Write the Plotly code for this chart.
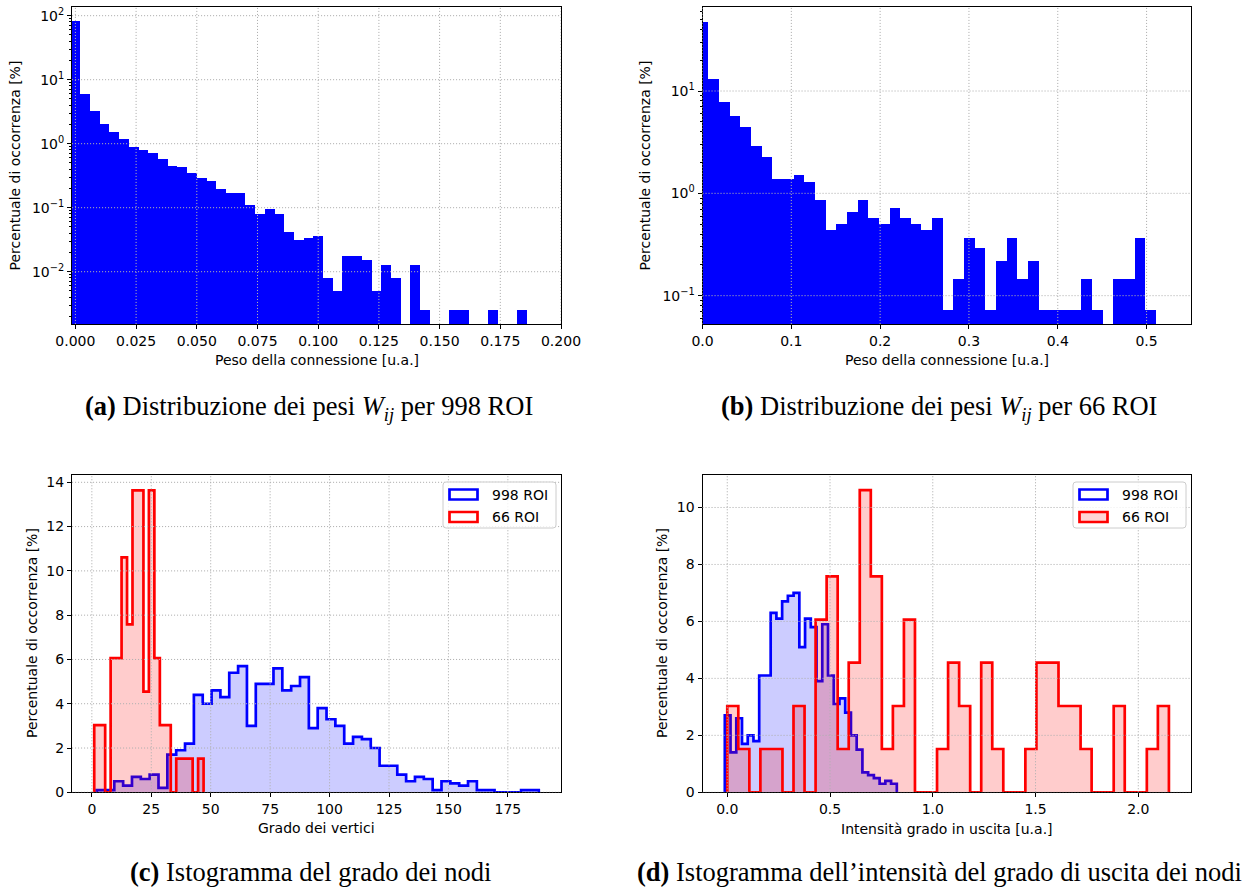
import numpy as np
import plotly.graph_objects as go

W, H = 1258, 888

# ---------------- data ----------------
# (a) weights distribution, 998 ROI: bins of width 0.004 centred on multiples of 0.004
a_width = 0.004
a_centers = np.round(np.arange(47) * a_width, 3)
a_pct = [80.5, 5.83, 3.16, 1.98, 1.49, 1.155, 0.866, 0.778, 0.698, 0.562,
         0.437, 0.422, 0.340, 0.284, 0.255, 0.191, 0.166, 0.166, 0.111, 0.0778,
         0.093, 0.0778, 0.0407, 0.0305, 0.0328, 0.0352,
         0.00778, 0.00499, 0.01757, 0.01757, 0.0152, 0.00499, 0.0127, 0.00778, None, 0.0127,
         0.00252, None, None, 0.00252, 0.00252, None, None, 0.00252, None, None, 0.00252]

# (b) weights distribution, 66 ROI: bins of width 0.012 centred on multiples of 0.012
b_width = 0.012
b_centers = np.round(np.arange(43) * b_width, 3)
b_pct = [47.2, 13.0, 7.81, 5.65, 4.45, 2.90, 2.265, 1.38, 1.38, 1.51,
         1.29, 0.861, 0.438, 0.502, 0.657, 0.861, 0.574, 0.502, 0.719, 0.574,
         0.502, 0.438, 0.574, 0.0722, 0.1445, 0.361, 0.289, 0.0722, 0.2166, 0.361,
         0.1445, 0.2166, 0.0722, 0.0722, 0.0722, 0.0722, 0.1445, 0.0722, None, 0.1445,
         0.1445, 0.361, 0.0722]

# (c) node degree histograms
c_blue_edges = np.linspace(2, 188, 51)
c_blue_pct = [0.1, 0.1, 0.5, 0.3, 0.7, 0.6, 0.8, 0.2, 1.7, 1.9,
              2.2, 4.4, 4.0, 4.6, 4.3, 5.4, 5.7, 3.0, 4.9, 4.9,
              5.6, 4.6, 4.8, 5.2, 2.9, 3.8, 3.3, 3.0, 2.2, 2.5,
              2.4, 2.0, 1.2, 1.2, 0.8, 0.5, 0.7, 0.6, 0.1, 0.5,
              0.4, 0.3, 0.5, 0.1, 0.1, 0.0, 0.0, 0.0, 0.1, 0.1]
c_red_edges = np.linspace(1, 47, 21)
c_red_pct = [3.03, 3.03, 0.0, 6.06, 6.06, 10.61, 7.58, 13.64, 13.64, 4.55,
             13.64, 6.06, 3.03, 3.03, 0.0, 1.52, 1.52, 1.52, 0.0, 1.52]

# (d) out-strength histograms
d_blue_edges = np.linspace(-0.012, 0.825, 31)
d_blue_pct = [2.7, 1.4, 2.6, 1.7, 2.0, 1.8, 4.1, 4.1, 6.3, 6.1,
              6.7, 6.9, 7.0, 5.1, 6.1, 5.8, 3.9, 5.9, 4.1, 3.1,
              3.3, 2.8, 2.0, 1.5, 0.7, 0.6, 0.5, 0.3, 0.4, 0.3]
d_red_edges = np.linspace(0.0, 2.149, 41)
d_red_pct = [3.03, 1.52, 0.0, 1.52, 1.52, 0.0, 3.03, 0.0, 6.06, 7.58,
             1.52, 4.55, 10.61, 7.58, 1.52, 3.03, 6.06, 0.0, 0.0, 1.52,
             4.55, 3.03, 0.0, 4.55, 1.52, 0.0, 0.0, 1.52, 4.55, 4.55,
             3.03, 3.03, 1.52, 0.0, 0.0, 3.03, 0.0, 0.0, 1.52, 3.03]

legend_labels = ["998 ROI", "66 ROI"]

# tick values
a_xt = [0, 0.025, 0.05, 0.075, 0.1, 0.125, 0.15, 0.175, 0.2]
a_yt = [0.01, 0.1, 1, 10, 100]
b_xt = [0, 0.1, 0.2, 0.3, 0.4, 0.5]
b_yt = [0.1, 1, 10]
c_xt = [0, 25, 50, 75, 100, 125, 150, 175]
c_yt = [0, 2, 4, 6, 8, 10, 12, 14]
d_xt = [0, 0.5, 1.0, 1.5, 2.0]
d_yt = [0, 2, 4, 6, 8, 10]

# ---------------- helpers ----------------
def P(x):
    return x / W

def Q(y):
    return 1 - y / H

FONT = "DejaVu Sans"
FS = 14
BLUE = "#0000ff"
RED = "#ff0000"
GRID = "#b0b0b0"

def step_xy(edges, heights):
    xs = [edges[0]]
    ys = [0]
    for i, h in enumerate(heights):
        xs += [edges[i], edges[i + 1]]
        ys += [h, h]
    xs.append(edges[-1])
    ys.append(0)
    return xs, ys

fig = go.Figure()

# panel domains (pixels)
LX = (72, 561)
RX = (702.5, 1191)
TY = (7.3, 324)
BY = (475, 792.3)

def dom_x(r):
    return [P(r[0]), P(r[1])]

def dom_y(r):
    return [Q(r[1]), Q(r[0])]

# ---------------- traces ----------------
fig.add_trace(go.Bar(x=a_centers, y=a_pct, width=a_width, marker=dict(color=BLUE, line=dict(width=0)),
                     xaxis="x", yaxis="y", showlegend=False))
fig.add_trace(go.Bar(x=b_centers, y=b_pct, width=b_width, marker=dict(color=BLUE, line=dict(width=0)),
                     xaxis="x2", yaxis="y2", showlegend=False))

for (edges, pct, col, fillc, xa, ya) in [
    (c_blue_edges, c_blue_pct, BLUE, "rgba(0,0,255,0.2)", "x3", "y3"),
    (c_red_edges, c_red_pct, RED, "rgba(255,0,0,0.2)", "x3", "y3"),
    (d_blue_edges, d_blue_pct, BLUE, "rgba(0,0,255,0.2)", "x4", "y4"),
    (d_red_edges, d_red_pct, RED, "rgba(255,0,0,0.2)", "x4", "y4"),
]:
    xs, ys = step_xy(edges, pct)
    fig.add_trace(go.Scatter(x=xs, y=ys, mode="lines", fill="tozeroy", fillcolor=fillc,
                             line=dict(color=col, width=2.7), xaxis=xa, yaxis=ya,
                             showlegend=False, hoverinfo="skip"))

# ---------------- axes ----------------
common = dict(showline=True, mirror=True, linecolor="black", linewidth=1,
              ticks="outside", ticklen=4, tickwidth=1, tickcolor="black",
              showgrid=False, zeroline=False, layer="above traces", automargin=False,
              tickfont=dict(family=FONT, size=FS, color="black"))

minor_log_a = [m * 10.0 ** e for e in range(-3, 3) for m in range(2, 10)]
minor_log_a = [v for v in minor_log_a if 0.00152 <= v <= 135]
minor_log_b = [m * 10.0 ** e for e in range(-2, 2) for m in range(2, 10)]
minor_log_b = [v for v in minor_log_b if 0.0528 <= v <= 65.7]

fig.update_layout(
    xaxis=dict(domain=dom_x(LX), anchor="y", range=[-0.0014, 0.2],
               tickvals=a_xt, ticktext=[f"{v:.3f}" for v in a_xt], **common),
    yaxis=dict(domain=dom_y(TY), anchor="x", type="log", range=[-2.817, 2.131],
               tickvals=a_yt,
               ticktext=["10<sup>−2</sup>", "10<sup>−1</sup>", "10<sup>0</sup>", "10<sup>1</sup>", "10<sup>2</sup>"],
               minor=dict(tickvals=minor_log_a, ticks="outside", ticklen=2, tickcolor="black", showgrid=False),
               **common),
    xaxis2=dict(domain=dom_x(RX), anchor="y2", range=[0, 0.55],
                tickvals=b_xt, ticktext=[f"{v:.1f}" for v in b_xt], **common),
    yaxis2=dict(domain=dom_y(TY), anchor="x2", type="log", range=[-1.277, 1.818],
                tickvals=b_yt,
                ticktext=["10<sup>−1</sup>", "10<sup>0</sup>", "10<sup>1</sup>"],
                minor=dict(tickvals=minor_log_b, ticks="outside", ticklen=2, tickcolor="black", showgrid=False),
                **common),
    xaxis3=dict(domain=dom_x(LX), anchor="y3", range=[-8.35, 197.35],
                tickvals=c_xt, ticktext=[str(v) for v in c_xt], **common),
    yaxis3=dict(domain=dom_y(BY), anchor="x3", range=[0, 14.33],
                tickvals=c_yt, **common),
    xaxis4=dict(domain=dom_x(RX), anchor="y4", range=[-0.1205, 2.2565],
                tickvals=d_xt, ticktext=[f"{v:.1f}" for v in d_xt], **common),
    yaxis4=dict(domain=dom_y(BY), anchor="x4", range=[0, 11.14],
                tickvals=d_yt, **common),
)

shapes = []

# dotted grid drawn above the histograms (matplotlib draws grid over patches)
GRID_DASH = "1.1px,1.9px"
for xa, ya, xt, yt in [("x", "y", a_xt, a_yt), ("x2", "y2", b_xt, b_yt),
                       ("x3", "y3", c_xt, c_yt), ("x4", "y4", d_xt, d_yt)]:
    for v in xt:
        shapes.append(dict(type="line", xref=xa, yref=ya + " domain", x0=v, x1=v, y0=0, y1=1,
                           line=dict(color=GRID, width=1, dash=GRID_DASH), layer="above"))
    for v in yt:
        shapes.append(dict(type="line", xref=xa + " domain", yref=ya, x0=0, x1=1, y0=v, y1=v,
                           line=dict(color=GRID, width=1, dash=GRID_DASH), layer="above"))

# ---------------- text ----------------
ann = []

def text(x, y, s, size=FS, family=FONT, angle=0, xanchor="center"):
    ann.append(dict(x=P(x), y=Q(y), xref="paper", yref="paper", text=s, showarrow=False,
                    textangle=angle, xanchor=xanchor, yanchor="middle",
                    font=dict(family=family, size=size, color="black")))

ylab = "Percentuale di occorrenza [%]"
text(15, 165.5, ylab, angle=-90)
text(645, 165.5, ylab, angle=-90)
text(31.5, 633.5, ylab, angle=-90)
text(661.5, 633.5, ylab, angle=-90)

text(316.5, 360, "Peso della connessione [u.a.]")
text(947, 360, "Peso della connessione [u.a.]")
text(316.5, 828, "Grado dei vertici")
text(947, 829, "Intensità grado in uscita [u.a.]")

SERIF = "Liberation Serif"
CS = 26.5
text(309, 408, "<b>(a)</b> Distribuzione dei pesi <i>W</i><sub><i>ij</i></sub> per 998 ROI", size=CS, family=SERIF)
text(939, 408, "<b>(b)</b> Distribuzione dei pesi <i>W</i><sub><i>ij</i></sub> per 66 ROI", size=CS, family=SERIF)
text(310, 871.5, "<b>(c)</b> Istogramma del grado dei nodi", size=CS, family=SERIF)
text(939, 871.5, "<b>(d)</b> Istogramma dell’intensità del grado di uscita dei nodi", size=CS, family=SERIF)

# ---------------- custom legends ----------------
def rounded_box(x0, y0, x1, y1, r=3):
    rx, ry = r / W, r / H
    X0, X1 = P(x0), P(x1)
    Y0, Y1 = Q(y0), Q(y1)
    path = (f"M {X0+rx},{Y0} L {X1-rx},{Y0} Q {X1},{Y0} {X1},{Y0-ry} "
            f"L {X1},{Y1+ry} Q {X1},{Y1} {X1-rx},{Y1} L {X0+rx},{Y1} "
            f"Q {X0},{Y1} {X0},{Y1+ry} L {X0},{Y0-ry} Q {X0},{Y0} {X0+rx},{Y0} Z")
    return dict(type="path", path=path, xref="paper", yref="paper",
                fillcolor="rgba(255,255,255,0.8)", line=dict(color="#cccccc", width=1), layer="above")

for dx, red_fill in [(0, "white"), (630, "rgba(255,214,214,1)")]:
    shapes.append(rounded_box(443 + dx, 482, 556 + dx, 528))
    for i, (col, fc) in enumerate([(BLUE, "white"), (RED, red_fill)]):
        yc = 494.5 + i * 22.5
        shapes.append(dict(type="rect", xref="paper", yref="paper",
                           x0=P(449.5 + dx), x1=P(477.5 + dx), y0=Q(yc - 5), y1=Q(yc + 5),
                           line=dict(color=col, width=2.7), fillcolor=fc, layer="above"))
        text(490 + dx, yc, legend_labels[i], xanchor="left")

fig.update_layout(
    width=W, height=H, margin=dict(l=0, r=0, t=0, b=0, pad=0, autoexpand=False),
    paper_bgcolor="white", plot_bgcolor="white",
    showlegend=False, bargap=0,
    annotations=ann, shapes=shapes,
)

fig.write_html("out.html",
               post_script="document.body.style.margin='0';document.body.style.overflow='hidden';")
